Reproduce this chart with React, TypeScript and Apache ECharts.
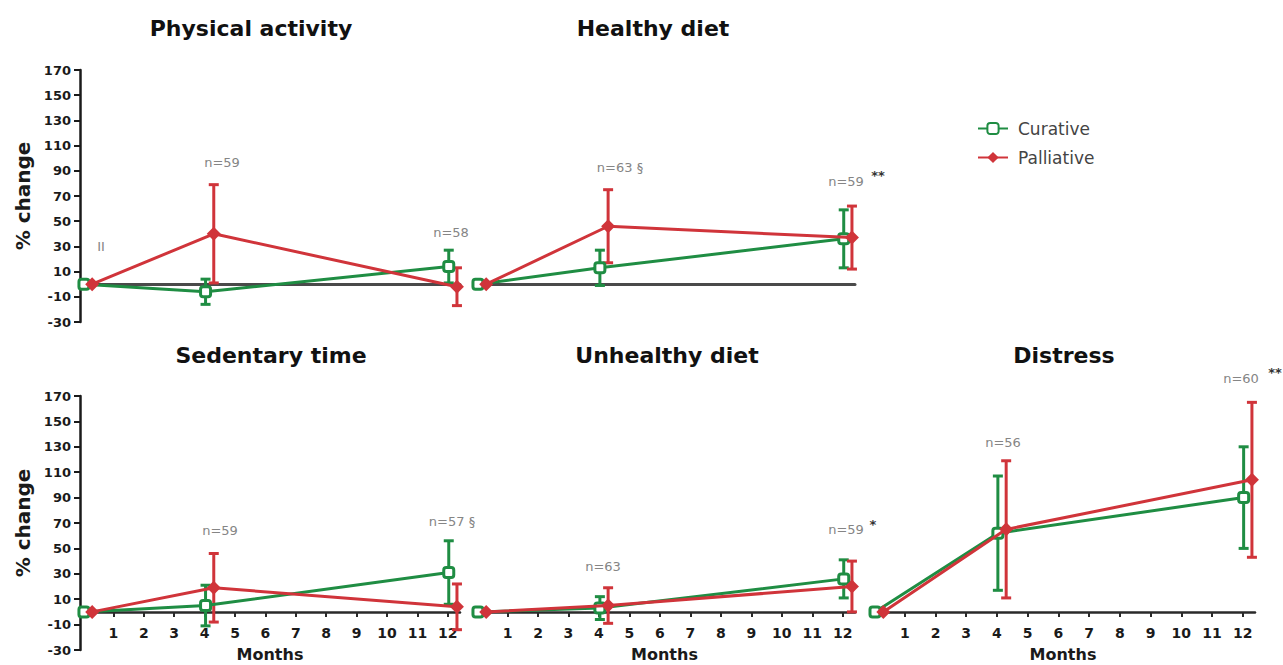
import React, { useEffect, useRef } from "react";
import * as echarts from "echarts";

// ---- data ----
const MONTHS = [0, 4, 12];
const MONTH_TICKS = [1, 2, 3, 4, 5, 6, 7, 8, 9, 10, 11, 12];
const Y_TICKS = [-30, -10, 10, 30, 50, 70, 90, 110, 130, 150, 170];
const PANEL_TITLES = ["Physical activity", "Healthy diet", "Sedentary time", "Unhealthy diet", "Distress"];
const SERIES_NAMES = ["Curative", "Palliative"];

// mean % change and error half-widths per panel, months 0/4/12
const paCurMean = [0, -6, 14];
const paCurErr = [0, 10, 13];
const paPalMean = [0, 40, -2];
const paPalErr = [0, 39, 15];

const hdCurMean = [0, 13, 36];
const hdCurErr = [0, 14, 23];
const hdPalMean = [0, 46, 37];
const hdPalErr = [0, 29, 25];

const stCurMean = [0, 5, 31];
const stCurErr = [0, 16, 25];
const stPalMean = [0, 19, 4];
const stPalErr = [0, 27, 18];

const udCurMean = [0, 3, 26];
const udCurErr = [0, 9, 15];
const udPalMean = [0, 5, 20];
const udPalErr = [0, 14, 20];

const diCurMean = [0, 62, 90];
const diCurErr = [0, 45, 40];
const diPalMean = [0, 65, 104];
const diPalErr = [0, 54, 61];

// annotations: [text, x, y]
const ANNOTATIONS: [string, number, number][] = [
  ["II", 101, 246],
  ["n=59", 222, 162],
  ["n=58", 451, 232],
  ["n=63 §", 620, 167],
  ["n=59", 846, 181],
  ["**", 878, 175],
  ["n=59", 220, 530],
  ["n=57 §", 452, 521],
  ["n=63", 603, 566],
  ["n=59", 846, 529],
  ["*", 873, 524],
  ["n=56", 1003, 442],
  ["n=60", 1241, 378],
  ["**", 1275, 372],
];

const GREEN = "#1f8d43";
const RED = "#d0343a";
const CUR_OFFSET = 0.03;
const PAL_OFFSET = 0.3;
const Y_MIN = -30;
const Y_MAX = 170;

const PANELS = [
  { cm: paCurMean, ce: paCurErr, pm: paPalMean, pe: paPalErr },
  { cm: hdCurMean, ce: hdCurErr, pm: hdPalMean, pe: hdPalErr },
  { cm: stCurMean, ce: stCurErr, pm: stPalMean, pe: stPalErr },
  { cm: udCurMean, ce: udCurErr, pm: udPalMean, pe: udPalErr },
  { cm: diCurMean, ce: diCurErr, pm: diPalMean, pe: diPalErr },
];

// layout
const GRIDS = [
  { left: 80, top: 70, width: 380, height: 252, yAxis: true, bottom: false, titleX: 251 },
  { left: 474, top: 70, width: 381, height: 252, yAxis: false, bottom: false, titleX: 653 },
  { left: 80, top: 396, width: 380, height: 254, yAxis: true, bottom: true, titleX: 271 },
  { left: 474, top: 396, width: 381, height: 254, yAxis: false, bottom: true, titleX: 667 },
  { left: 871, top: 396, width: 384, height: 254, yAxis: false, bottom: true, titleX: 1064 },
];

const BOLD_FONT = "'DejaVu Sans', Arial, sans-serif";
const TEXT_FONT = "'DejaVu Sans', Arial, sans-serif";

function errRender(color: string) {
  return (params: any, api: any) => {
    const x = api.value(0);
    const lo = api.value(1);
    const hi = api.value(2);
    const pLo = api.coord([x, lo]);
    const pHi = api.coord([x, hi]);
    const w = 5;
    const style = { stroke: color, lineWidth: 3 };
    return {
      type: "group",
      children: [
        { type: "line", shape: { x1: pLo[0], y1: pLo[1], x2: pHi[0], y2: pHi[1] }, style },
        { type: "line", shape: { x1: pHi[0] - w, y1: pHi[1], x2: pHi[0] + w, y2: pHi[1] }, style },
        { type: "line", shape: { x1: pLo[0] - w, y1: pLo[1], x2: pLo[0] + w, y2: pLo[1] }, style },
      ],
    };
  };
}

function buildOption() {
  const grid: any[] = [];
  const xAxis: any[] = [];
  const yAxis: any[] = [];
  const series: any[] = [];
  const graphic: any[] = [];

  GRIDS.forEach((g, i) => {
    grid.push({
      left: g.left,
      top: g.top,
      width: g.width,
      height: g.height,
      containLabel: false,
      outerBoundsMode: "none",
    });
    // distance from the grid bottom up to the zero line
    const zeroOffset = ((0 - Y_MIN) / (Y_MAX - Y_MIN)) * g.height;
    xAxis.push({
      type: "value",
      gridIndex: i,
      position: "bottom",
      min: -0.1,
      max: 12.4,
      offset: g.bottom ? -zeroOffset : 0,
      splitLine: { show: false },
      axisLine: {
        show: true,
        onZero: !g.bottom,
        lineStyle: { color: g.bottom ? "#2a2a2a" : "#4a4a4a", width: g.bottom ? 2.5 : 3 },
      },
      axisTick: g.bottom
        ? { show: true, customValues: MONTH_TICKS, length: 5, lineStyle: { color: "#2a2a2a", width: 2 } }
        : { show: false },
      axisLabel: g.bottom
        ? {
            show: true,
            customValues: MONTH_TICKS,
            margin: 14,
            fontSize: 14,
            fontWeight: "bold",
            color: "#1a1a1a",
            fontFamily: BOLD_FONT,
          }
        : { show: false },
      name: g.bottom ? "Months" : "",
      nameLocation: "middle",
      nameGap: 35,
      nameTextStyle: {
        fontSize: 16,
        lineHeight: 16,
        fontWeight: "bold",
        color: "#1a1a1a",
        fontFamily: BOLD_FONT,
      },
    });
    yAxis.push({
      type: "value",
      gridIndex: i,
      min: Y_MIN,
      max: Y_MAX,
      show: g.yAxis,
      splitLine: { show: false },
      axisLine: { show: true, onZero: false, lineStyle: { color: "#1a1a1a", width: 2.5 } },
      axisTick: { show: true, customValues: Y_TICKS, length: 6, lineStyle: { color: "#1a1a1a", width: 2 } },
      axisLabel: {
        show: true,
        customValues: Y_TICKS,
        margin: 9,
        fontSize: 13,
        fontWeight: "bold",
        color: "#1a1a1a",
        fontFamily: BOLD_FONT,
      },
      name: g.yAxis ? "% change" : "",
      nameLocation: "middle",
      nameRotate: 90,
      nameGap: 47,
      nameTextStyle: { fontSize: 20, fontWeight: "bold", color: "#1a1a1a", fontFamily: BOLD_FONT },
    });

    const p = PANELS[i];
    const curErr = MONTHS.map((m, k) => [m + CUR_OFFSET, p.cm[k] - p.ce[k], p.cm[k] + p.ce[k]]).filter(
      (_, k) => p.ce[k] > 0
    );
    const palErr = MONTHS.map((m, k) => [m + PAL_OFFSET, p.pm[k] - p.pe[k], p.pm[k] + p.pe[k]]).filter(
      (_, k) => p.pe[k] > 0
    );

    series.push({
      type: "custom",
      name: "Curative err",
      xAxisIndex: i,
      yAxisIndex: i,
      renderItem: errRender(GREEN),
      encode: { x: 0, y: [1, 2] },
      data: curErr,
      z: 2,
    });
    series.push({
      type: "custom",
      name: "Palliative err",
      xAxisIndex: i,
      yAxisIndex: i,
      renderItem: errRender(RED),
      encode: { x: 0, y: [1, 2] },
      data: palErr,
      z: 2,
    });
    series.push({
      type: "line",
      name: SERIES_NAMES[0],
      xAxisIndex: i,
      yAxisIndex: i,
      data: MONTHS.map((m, k) => [m + CUR_OFFSET, p.cm[k]]),
      symbol: "roundRect",
      symbolSize: 10,
      lineStyle: { color: GREEN, width: 3 },
      itemStyle: { color: "#ffffff", borderColor: GREEN, borderWidth: 3 },
      z: 3,
    });
    series.push({
      type: "line",
      name: SERIES_NAMES[1],
      xAxisIndex: i,
      yAxisIndex: i,
      data: MONTHS.map((m, k) => [m + PAL_OFFSET, p.pm[k]]),
      symbol: "diamond",
      symbolSize: 14,
      lineStyle: { color: RED, width: 3 },
      itemStyle: { color: RED },
      z: 4,
    });

    graphic.push({
      type: "text",
      x: g.titleX,
      y: i < 2 ? 28 : 355,
      style: {
        text: PANEL_TITLES[i],
        fill: "#111",
        font: `bold 22px ${BOLD_FONT}`,
        textAlign: "center",
        textVerticalAlign: "middle",
      },
    });
  });

  ANNOTATIONS.forEach(([t, x, y]) => {
    const star = t.startsWith("*");
    graphic.push({
      type: "text",
      x,
      y,
      style: {
        text: t,
        fill: star ? "#333" : "#858585",
        font: `${star ? "bold " : ""}13px ${TEXT_FONT}`,
        textAlign: "center",
        textVerticalAlign: "middle",
      },
    });
  });

  return {
    animation: false,
    backgroundColor: "#ffffff",
    grid,
    xAxis,
    yAxis,
    series,
    graphic,
    legend: {
      data: SERIES_NAMES,
      orient: "vertical",
      left: 972,
      top: 115,
      itemWidth: 30,
      itemHeight: 14,
      itemGap: 12,
      textStyle: { fontSize: 17, color: "#444", fontFamily: TEXT_FONT, padding: [0, 0, 0, 5] },
    },
  };
}

export default function App() {
  const ref = useRef<HTMLDivElement>(null);
  useEffect(() => {
    if (!ref.current) return;
    const chart = echarts.init(ref.current, undefined, { renderer: "svg" });
    chart.setOption(buildOption() as any);
    return () => chart.dispose();
  }, []);
  return (
    <div
      ref={ref}
      style={{ position: "fixed", left: 0, top: 0, width: 1283, height: 665, background: "#fff" }}
    />
  );
}
